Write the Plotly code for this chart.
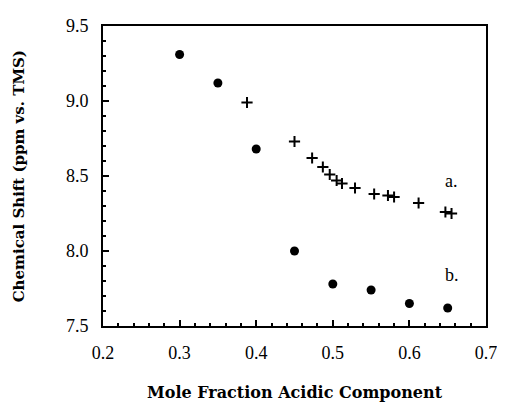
import plotly.graph_objects as go

# Series a (crosses)
a_x = [0.388, 0.450, 0.473, 0.487, 0.496, 0.505, 0.512, 0.529, 0.554, 0.572, 0.580, 0.612, 0.647, 0.655]
a_y = [8.99, 8.73, 8.62, 8.56, 8.51, 8.47, 8.45, 8.42, 8.38, 8.37, 8.36, 8.32, 8.26, 8.25]
# Series b (filled circles)
b_x = [0.30, 0.35, 0.40, 0.45, 0.50, 0.55, 0.60, 0.65]
b_y = [9.31, 9.12, 8.68, 8.00, 7.78, 7.74, 7.65, 7.62]

x_ticks = [0.2, 0.3, 0.4, 0.5, 0.6, 0.7]
y_ticks = [7.5, 8.0, 8.5, 9.0, 9.5]

labels = ["a.", "b."]
label_x = [0.655, 0.655]
label_y = [8.47, 7.84]

FONT = "Liberation Serif"
TITLE_FONT = "DejaVu Serif"

fig = go.Figure()
fig.add_trace(go.Scatter(x=b_x, y=b_y, mode="markers",
                         marker=dict(symbol="circle", size=9, color="black"),
                         showlegend=False))
fig.add_trace(go.Scatter(x=a_x, y=a_y, mode="markers",
                         marker=dict(symbol="cross-thin", size=8,
                                     line=dict(width=2, color="black"), color="black"),
                         showlegend=False))

for t, lx, ly in zip(labels, label_x, label_y):
    fig.add_annotation(x=lx, y=ly, text=t, showarrow=False,
                       font=dict(family=FONT, size=18, color="black"))

fig.add_annotation(xref="paper", yref="paper", x=0.5, y=-0.2226, yanchor="middle",
                   text="<b>Mole Fraction Acidic Component</b>", showarrow=False,
                   font=dict(family=TITLE_FONT, size=16, color="black"))
fig.add_annotation(xref="paper", yref="paper", x=-0.2185, y=0.5, xanchor="center",
                   text="<b>Chemical Shift (ppm vs. TMS)</b>", showarrow=False, textangle=-90,
                   font=dict(family=TITLE_FONT, size=15, color="black"))

axis_common = dict(showline=True, linecolor="black", linewidth=2, mirror=True,
                   ticks="inside", ticklen=6, tickwidth=1.5, tickcolor="black",
                   showgrid=False, zeroline=False,
                   tickfont=dict(family=FONT, size=18, color="black"),
                   tickformat=".1f")

fig.update_xaxes(range=[0.2, 0.7], tickvals=x_ticks, ticklabelstandoff=9,
                 minor=dict(ticks="inside", dtick=0.02, ticklen=3, tickcolor="black", tickwidth=1.5),
                 **axis_common)
fig.update_yaxes(range=[7.5, 9.5], tickvals=y_ticks, ticklabelstandoff=9,
                 minor=dict(ticks="inside", dtick=0.1, ticklen=3, tickcolor="black", tickwidth=1.5),
                 **axis_common)

# page body has an 8px default margin, so the figure is 8px smaller and shifted
fig.update_layout(width=497, height=399, margin=dict(l=95, r=13, t=8, b=81),
                  plot_bgcolor="white", paper_bgcolor="white")

fig.write_html("out.html")
